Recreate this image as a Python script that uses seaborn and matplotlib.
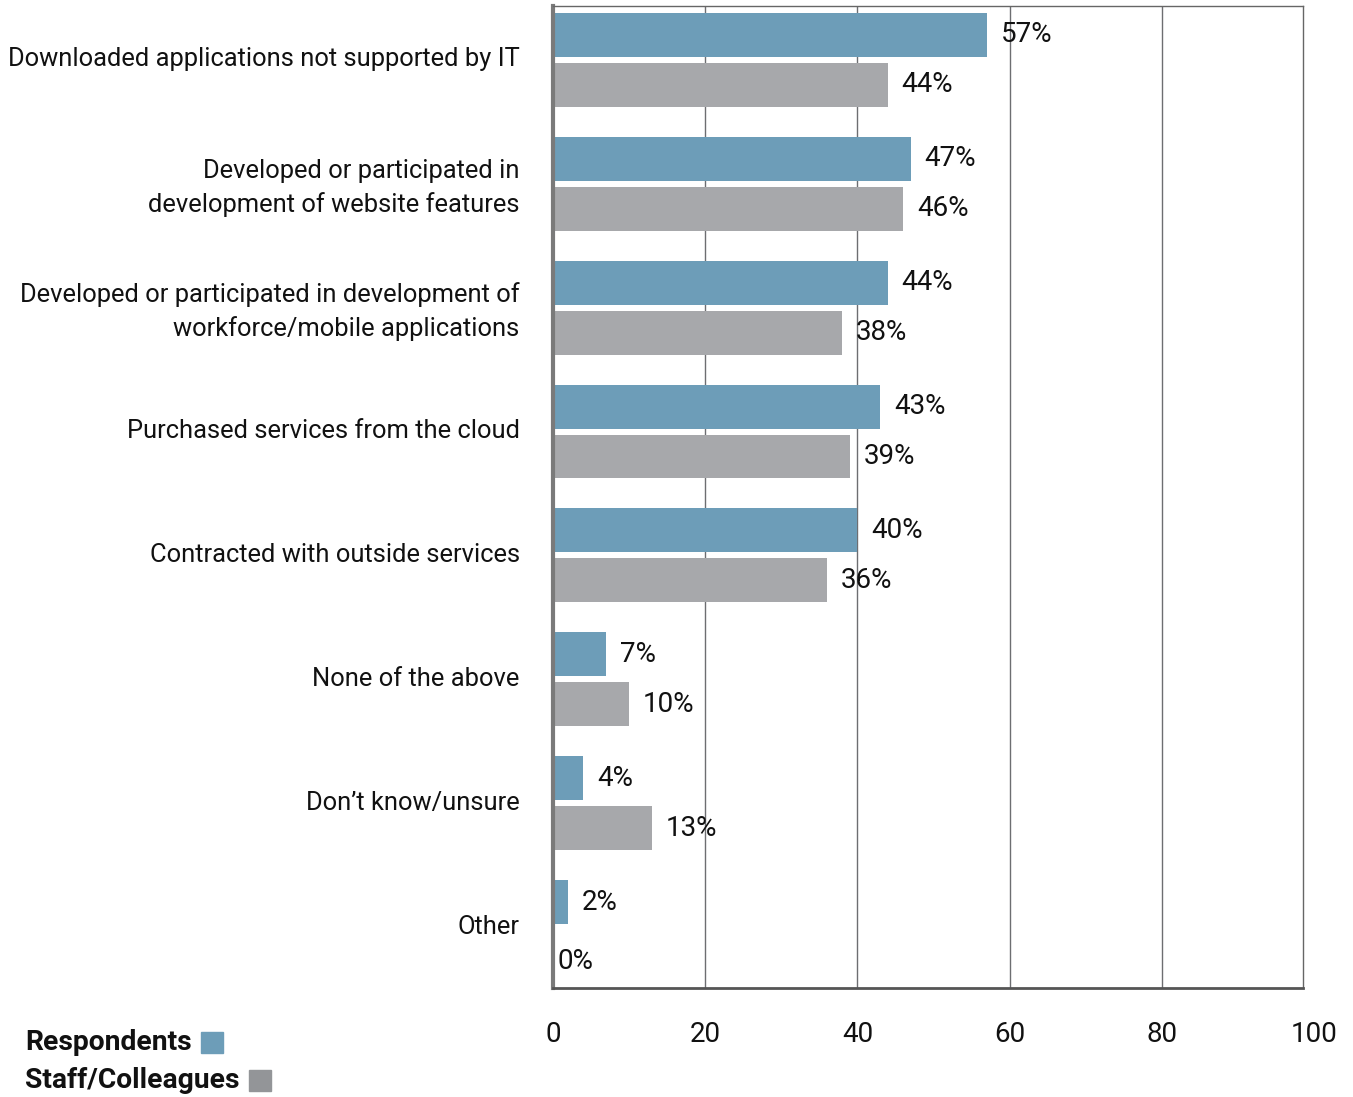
import matplotlib
matplotlib.use("Agg")
import matplotlib.pyplot as plt
import matplotlib.transforms as mtransforms
import seaborn as sns
import pandas as pd
from matplotlib.patches import Rectangle

categories = [
    "Downloaded applications not supported by IT",
    "Developed or participated in\ndevelopment of website features",
    "Developed or participated in development of\nworkforce/mobile applications",
    "Purchased services from the cloud",
    "Contracted with outside services",
    "None of the above",
    "Don\u2019t know/unsure",
    "Other",
]
respondents = [57, 47, 44, 43, 40, 7, 4, 2]
staff = [44, 46, 38, 39, 36, 10, 13, 0]
series_names = ["Respondents", "Staff/Colleagues"]
x_ticks = [0, 20, 40, 60, 80, 100]

BLUE = "#6d9db8"
GRAY = "#a7a8ab"
LEGEND_GRAY = "#939598"
INK = "#111111"

sns.set_theme(style="white")
FONT = ["Roboto", "DejaVu Sans"]
plt.rcParams["font.family"] = FONT

df = pd.DataFrame({
    "category": categories * 2,
    "value": respondents + staff,
    "series": [series_names[0]] * len(categories) + [series_names[1]] * len(categories),
})

W, H = 1353, 1097
fig = plt.figure(figsize=(W / 100, H / 100), dpi=100)
ax = fig.add_axes([553 / W, (H - 988) / H, (1303 - 553) / W, (988 - 6) / H])

sns.barplot(data=df, y="category", x="value", hue="series", order=categories,
            hue_order=series_names, palette=[BLUE, GRAY], orient="h",
            width=0.806, saturation=1, legend=False, ax=ax)

# thinner bars with a small gap inside each pair
bar_h = 0.355
for p in ax.patches:
    c = p.get_y() + p.get_height() / 2
    p.set_height(bar_h)
    p.set_y(c - bar_h / 2)
    p.set_edgecolor("none")

for cont in ax.containers:
    vals = [r.get_width() for r in cont]
    anns = ax.bar_label(cont, labels=[f"{v:.0f}%" for v in vals], padding=10,
                        fontsize=20, color=INK)
    for v, a in zip(vals, anns):
        if v == 0:
            a.xyann = (3, a.xyann[1] - 7)

XMAX = 98.55
ax.set_xlim(0, XMAX)
ax.set_ylim(7.492, -0.435)
ax.set_xticks([t for t in x_ticks if t <= XMAX])
ax.set_xticklabels([str(t) for t in x_ticks if t <= XMAX])
ax.tick_params(axis="x", length=0, pad=24, labelsize=20, labelcolor=INK)
ax.tick_params(axis="y", length=0, pad=24, labelsize=18.4, labelcolor=INK)
lift = mtransforms.ScaledTranslation(0, 3 / 100, fig.dpi_scale_trans)
for lbl in ax.get_yticklabels():
    lbl.set_horizontalalignment("right")
    lbl.set_multialignment("right")
    lbl.set_linespacing(1.45)
    lbl.set_transform(lbl.get_transform() + lift)
ax.set_xlabel("")
ax.set_ylabel("")

# tick label for 100 sits just past the frame
for t in x_ticks:
    if t > XMAX:
        ax.text(t, -24 * 100 / 72 / (988 - 6), str(t),
                transform=ax.get_xaxis_transform(),
                ha="center", va="top", fontsize=20, color=INK, clip_on=False)

ax.set_axisbelow(True)
ax.xaxis.grid(True, color="#6d6e71", linewidth=1)
ax.yaxis.grid(False)

ax.spines["left"].set_linewidth(3)
ax.spines["left"].set_color("#7a7a7a")
ax.spines["bottom"].set_linewidth(2)
ax.spines["bottom"].set_color("#555555")
for s in ("top", "right"):
    ax.spines[s].set_linewidth(1)
    ax.spines[s].set_color("#666666")
for s in ax.spines.values():
    s.set_visible(True)

# legend drawn in figure pixels at the lower left
def fy(py):
    return 1 - py / H

renderer = fig.canvas.get_renderer()
for name, color, py in [(series_names[0], BLUE, 1043),
                        (series_names[1], LEGEND_GRAY, 1081)]:
    t = fig.text(25 / W, fy(py), name, ha="left", va="center",
                 fontsize=20.3, fontweight="bold", color=INK)
    x1 = t.get_window_extent(renderer).x1
    fig.patches.append(Rectangle(((x1 + 9) / W, fy(py + 10)), 22 / W, 21 / H,
                                 transform=fig.transFigure, color=color))

fig.savefig("out.png", dpi=100)
